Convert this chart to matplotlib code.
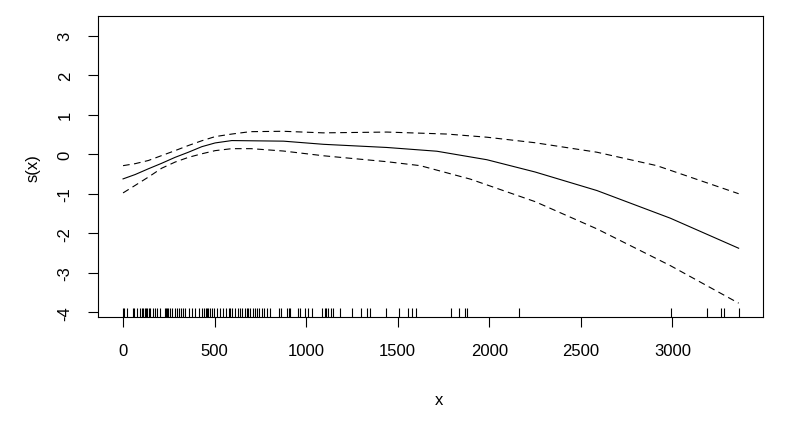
import matplotlib

matplotlib.use("Agg")
import matplotlib.pyplot as plt

# smooth estimate s(x) and its +/- 2 se band
fit_x = [0, 66, 138, 211, 284, 357, 430, 503, 594, 876, 1095, 1441, 1714, 1987, 2250, 2588, 2989, 3362]
fit_y = [-0.625, -0.515, -0.37, -0.23, -0.08, 0.05, 0.19, 0.285, 0.345, 0.33, 0.25, 0.17, 0.075,
         -0.14, -0.45, -0.92, -1.62, -2.38]

upper_x = [0, 66, 138, 211, 284, 357, 430, 503, 594, 694, 874, 1093, 1441, 1768, 1987, 2250, 2588, 2915, 3362]
upper_y = [-0.29, -0.24, -0.16, -0.035, 0.09, 0.22, 0.34, 0.445, 0.51, 0.57, 0.58, 0.54, 0.56, 0.51,
           0.43, 0.29, 0.05, -0.29, -1.0]

lower_x = [0, 66, 138, 211, 284, 357, 430, 503, 594, 700, 876, 1095, 1441, 1623, 1896, 2250, 2588, 2989, 3362]
lower_y = [-0.98, -0.79, -0.58, -0.355, -0.20, -0.08, 0.01, 0.09, 0.14, 0.14, 0.08, -0.04, -0.19,
           -0.29, -0.63, -1.2, -1.89, -2.82, -3.77]

# observed x values (rug)
rug_x = [0, 5, 24, 53, 60, 75, 93, 104, 111, 118, 126, 133, 140, 148, 162, 177, 184,
         202, 228, 233, 239, 246, 257, 268, 286, 293, 304, 319, 330, 341, 359, 377,
         395, 417, 432, 443, 452, 459, 466, 474, 488, 499, 514, 532, 546, 561, 576,
         583, 597, 612, 630, 638, 648, 667, 678, 685, 696, 707, 721, 732, 743, 758,
         772, 787, 805, 849, 863, 898, 905, 913, 958, 964, 996, 1011, 1033, 1084,
         1102, 1109, 1117, 1138, 1146, 1186, 1248, 1299, 1332, 1350, 1434, 1507,
         1554, 1579, 1601, 1793, 1837, 1870, 1877, 2162, 2993, 3189, 3266, 3281, 3364]

x_ticks = [0, 500, 1000, 1500, 2000, 2500, 3000]
y_ticks = [-4, -3, -2, -1, 0, 1, 2, 3]

plt.rcParams["font.family"] = ["Liberation Sans", "DejaVu Sans"]
plt.rcParams["font.size"] = 12
plt.rcParams["axes.unicode_minus"] = False

fig = plt.figure(figsize=(8.08, 4.27), dpi=100)
ax = fig.add_axes([0.1217, 0.2553, 0.8226, 0.7042])

ax.plot(fit_x, fit_y, color="black", lw=0.8)
ax.plot(upper_x, upper_y, color="black", lw=0.8, linestyle=(0, (6, 4)))
ax.plot(lower_x, lower_y, color="black", lw=0.8, linestyle=(0, (6, 4)))
ax.vlines(rug_x, 0, 0.03, color="black", lw=0.8, transform=ax.get_xaxis_transform())

ax.set_xlim(-135, 3495)
ax.set_ylim(-4.12, 3.49)
ax.set_xticks(x_ticks)
ax.set_yticks(y_ticks)
ax.tick_params(direction="out", length=7.5, width=0.8, pad=11)
ax.tick_params(axis="y", labelrotation=90)
for lab in ax.get_yticklabels():
    lab.set_va("center")
for spine in ax.spines.values():
    spine.set_linewidth(0.8)

ax.set_xlabel("x")
ax.set_ylabel("s(x)")
ax.xaxis.set_label_coords(0.512, -0.276)
ax.xaxis.label.set_va("center")
ax.yaxis.set_label_coords(-0.098, 0.5)
ax.yaxis.label.set_va("center")

fig.savefig("out.png", dpi=100)
plt.close(fig)
